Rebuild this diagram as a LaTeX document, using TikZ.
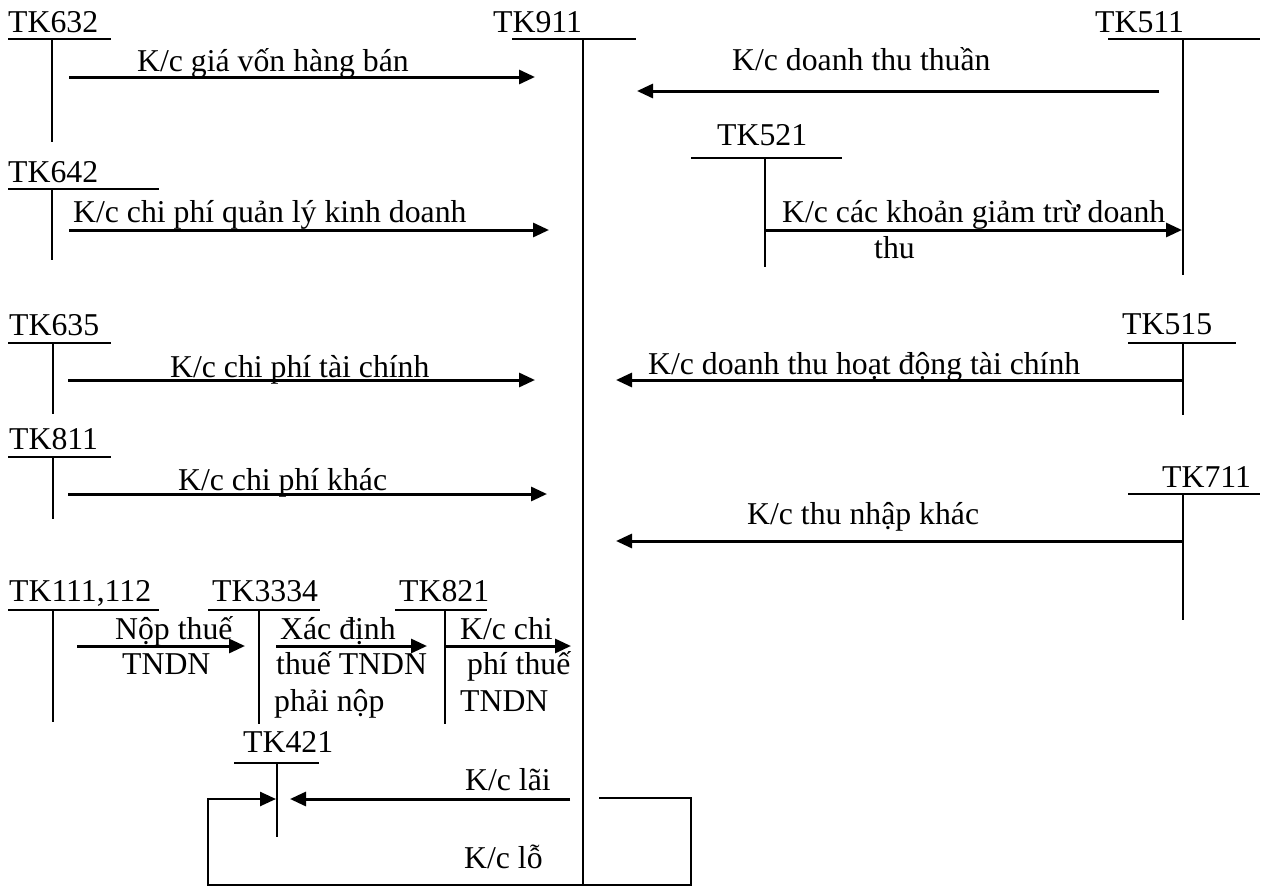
\documentclass[tikz,border=0pt]{standalone}
\usepackage{fontspec}
\setmainfont{Liberation Serif}
\usetikzlibrary{arrows.meta}
\newcommand\tacct[9]{%
  \node[lbl] (#1l) at (#3,#4) {#2};
  \coordinate (#1a) at (#5,#7);
  \coordinate (#1b) at (#6,#7);
  \coordinate (#1t) at (#8,#7);
  \coordinate (#1e) at (#8,#9);
  \draw[tacc] (#1a) -- (#1b);
  \draw[tacc] (#1t) -- (#1e);}
\begin{document}
\begin{tikzpicture}[x=1bp,y=-1bp,
  lbl/.style={anchor=base west,inner sep=0pt,font=\fontsize{31.75bp}{36bp}\selectfont},
  tacc/.style={line width=2bp},
  flow/.style={line width=3bp,-{Triangle[length=16bp,width=14bp]}},
  loopline/.style={line width=2.5bp,-{Triangle[length=16bp,width=14bp]}}]
\useasboundingbox (0,0) rectangle (1270,886);

% T accounts: name, label, text x, baseline y, line x1, line x2, line y, vertical x, vertical end y
\tacct{k632}{TK632}{8}{32}{8}{111}{39}{52}{142}
\tacct{k911}{TK911}{493}{32}{512}{636}{39}{583}{886}
\tacct{k511}{TK511}{1095}{32}{1108}{1260}{39}{1183}{275}
\tacct{k521}{TK521}{717}{145}{691}{842}{158}{765}{267}
\tacct{k642}{TK642}{8}{182}{8}{159}{189}{52}{260}
\tacct{k635}{TK635}{9}{335}{8}{111}{343}{53}{414}
\tacct{k515}{TK515}{1122}{334}{1128}{1236}{343}{1183}{415}
\tacct{k811}{TK811}{9}{449}{8}{111}{457}{53}{519}
\tacct{k711}{TK711}{1162}{487}{1128}{1260}{494}{1183}{620}
\tacct{k111}{TK111,112}{9}{601}{8}{159}{610}{53}{722}
\tacct{k3334}{TK3334}{212}{601}{208}{320}{610}{259}{724}
\tacct{k821}{TK821}{399}{601}{395}{487}{610}{445}{724}
\tacct{k421}{TK421}{243}{752}{234}{319}{763}{277}{837}

% arrows
\coordinate (a1s) at (69,77);   \coordinate (a1e) at (535,77);
\draw[flow] (a1s) -- (a1e);
\node[lbl] (a1t) at (137,71) {K/c giá vốn hàng bán};

\coordinate (a2s) at (1159,91); \coordinate (a2e) at (637,91);
\draw[flow] (a2s) -- (a2e);
\node[lbl] (a2t) at (732,70) {K/c doanh thu thuần};

\coordinate (a3s) at (765,230); \coordinate (a3e) at (1182,230);
\draw[flow] (a3s) -- (a3e);
\node[lbl] (a3t) at (782,222) {K/c các khoản giảm trừ doanh};
\node[lbl] (a3u) at (874,258) {thu};

\coordinate (a4s) at (69,230);  \coordinate (a4e) at (549,230);
\draw[flow] (a4s) -- (a4e);
\node[lbl] (a4t) at (73,222) {K/c chi phí quản lý kinh doanh};

\coordinate (a5s) at (68,380);  \coordinate (a5e) at (535,380);
\draw[flow] (a5s) -- (a5e);
\node[lbl] (a5t) at (170,377) {K/c chi phí tài chính};

\coordinate (a6s) at (1183,380); \coordinate (a6e) at (616,380);
\draw[flow] (a6s) -- (a6e);
\node[lbl] (a6t) at (648,374) {K/c doanh thu hoạt động tài chính};

\coordinate (a7s) at (68,494);  \coordinate (a7e) at (547,494);
\draw[flow] (a7s) -- (a7e);
\node[lbl] (a7t) at (178,490) {K/c chi phí khác};

\coordinate (a8s) at (1183,541); \coordinate (a8e) at (616,541);
\draw[flow] (a8s) -- (a8e);
\node[lbl] (a8t) at (747,524) {K/c thu nhập khác};

\coordinate (a9s) at (77,646);  \coordinate (a9e) at (245,646);
\draw[flow] (a9s) -- (a9e);
\node[lbl] (a9t) at (115,639) {Nộp thuế};
\node[lbl] (a9u) at (122,674) {TNDN};

\coordinate (a10s) at (276,646); \coordinate (a10e) at (427,646);
\draw[flow] (a10s) -- (a10e);
\node[lbl] (a10t) at (280,639) {Xác định};
\node[lbl] (a10u) at (276,674) {thuế TNDN};
\node[lbl] (a10v) at (274,711) {phải nộp};

\coordinate (a11s) at (446,646); \coordinate (a11e) at (571,646);
\draw[flow] (a11s) -- (a11e);
\node[lbl] (a11t) at (460,639) {K/c chi};
\node[lbl] (a11u) at (467,674) {phí thuế};
\node[lbl] (a11v) at (460,711) {TNDN};

\coordinate (a12s) at (570,799); \coordinate (a12e) at (290,799);
\draw[flow] (a12s) -- (a12e);
\node[lbl] (a12t) at (465,790) {K/c lãi};

\coordinate (l0) at (599,798);
\coordinate (l1) at (691,798);
\coordinate (l2) at (691,885);
\coordinate (l3) at (208,885);
\coordinate (l4) at (208,799);
\coordinate (l5) at (276,799);
\draw[loopline] (l0) -- (l1) -- (l2) -- (l3) -- (l4) -- (l5);
\node[lbl] (a13t) at (464,868) {K/c lỗ};
\end{tikzpicture}
\end{document}
